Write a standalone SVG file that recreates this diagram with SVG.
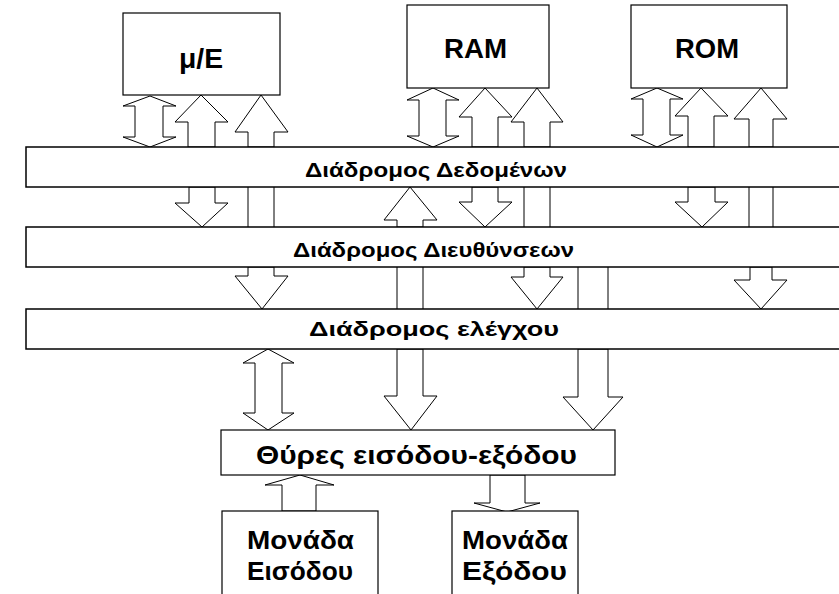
<svg xmlns="http://www.w3.org/2000/svg" width="839" height="594" viewBox="0 0 839 594">
  <style>
    .box { fill: #ffffff; stroke: #000000; stroke-width: 1.2; }
    .bus { fill: #ffffff; stroke: #000000; stroke-width: 1.5; }
    .arr { fill: #ffffff; stroke: #000000; stroke-width: 1; stroke-linejoin: miter; }
    .shaft { fill: none; stroke: #000000; stroke-width: 1; }
    text { font-family: "Liberation Sans", Arial, sans-serif; font-weight: bold; fill: #000000; text-anchor: start; }
    .big { font-size: 26px; }
    .unit { font-size: 27px; }
    .busl { font-size: 20px; }
  </style>
  <rect width="839" height="594" fill="#ffffff"/>

  <!-- connectors -->
  <g id="connectors">
    <!-- units to data bus -->
    <polygon class="arr" points="150,96 176,106 163,106 163,137 176,137 150,147 123,137 135,137 135,106 123,106"/>
    <polygon class="arr" points="201,95 228,122 215,122 215,147 188,147 188,122 175,122"/>
    <polygon class="arr" points="261,95 288,132 274,132 274,147 248,147 248,132 235,132"/>

    <polygon class="arr" points="433,88 459,100 446,100 446,136 459,136 433,147 407,136 419,136 419,100 407,100"/>
    <polygon class="arr" points="485,88 512,117 498,117 498,147 472,147 472,117 459,117"/>
    <polygon class="arr" points="537,88 563,122 550,122 550,147 524,147 524,122 511,122"/>

    <polygon class="arr" points="657,88 683,99 670,99 670,135 683,135 657,147 631,135 643,135 643,99 631,99"/>
    <polygon class="arr" points="701,88 728,116 714,116 714,147 688,147 688,116 675,116"/>
    <polygon class="arr" points="761,88 787,119 773,119 773,147 749,147 749,119 734,119"/>

    <!-- between data bus and address bus -->
    <polygon class="arr" points="189,187 189,203 175,203 202,227 228,203 215,203 215,187"/>
    <path class="shaft" d="M248,187V227M274,187V227"/>
    <polygon class="arr" points="410,187 437,220 423,220 423,227 397,227 397,220 384,220"/>
    <polygon class="arr" points="472,187 472,202 459,202 485,227 512,202 498,202 498,187"/>
    <path class="shaft" d="M524,187V227M550,187V227"/>
    <polygon class="arr" points="688,187 688,202 675,202 702,227 728,202 715,202 715,187"/>
    <path class="shaft" d="M749,187V227M773,187V227"/>

    <!-- between address bus and control bus -->
    <polygon class="arr" points="248,267 248,276 235,276 262,309 288,276 274,276 274,267"/>
    <path class="shaft" d="M397,267V309M423,267V309"/>
    <polygon class="arr" points="524,267 524,277 511,277 537,309 563,277 550,277 550,267"/>
    <path class="shaft" d="M578,267V309M608,267V309"/>
    <polygon class="arr" points="750,267 750,280 734,280 761,309 787,280 772,280 772,267"/>

    <!-- control bus to I/O ports -->
    <polygon class="arr" points="268,349 294,363 282,363 282,413 294,413 268,430 243,413 255,413 255,363 243,363"/>
    <polygon class="arr" points="397,349 397,396 384,396 411,430 437,396 423,396 423,349"/>
    <polygon class="arr" points="578,349 578,397 563,397 593,430 623,397 608,397 608,349"/>

    <!-- I/O ports to units -->
    <polygon class="arr" points="300,475 334,485 316,485 316,511 282,511 282,485 265,485"/>
    <polygon class="arr" points="490,475 490,503 474,503 507,512 540,503 525,503 525,475"/>
  </g>

  <g id="bus-data">
    <rect class="bus" x="26" y="147" width="830" height="40"/>
    <text class="busl" x="305" y="177" textLength="262" lengthAdjust="spacingAndGlyphs">Διάδρομος Δεδομένων</text>
  </g>
  <g id="bus-address">
    <rect class="bus" x="26" y="227" width="830" height="40"/>
    <text class="busl" x="293" y="257" textLength="281" lengthAdjust="spacingAndGlyphs">Διάδρομος Διευθύνσεων</text>
  </g>
  <g id="bus-control">
    <rect class="bus" x="26" y="309" width="830" height="40"/>
    <text class="busl" x="309" y="336" textLength="250" lengthAdjust="spacingAndGlyphs">Διάδρομος ελέγχου</text>
  </g>

  <g id="cpu">
    <rect class="box" x="123" y="13" width="157" height="82"/>
    <text class="unit" x="179" y="68" textLength="44" lengthAdjust="spacingAndGlyphs">μ/E</text>
  </g>
  <g id="ram">
    <rect class="box" x="407" y="5" width="142" height="83"/>
    <text class="unit" x="444" y="58" textLength="63" lengthAdjust="spacingAndGlyphs">RAM</text>
  </g>
  <g id="rom">
    <rect class="box" x="631" y="5" width="156" height="83"/>
    <text class="unit" x="675" y="58" textLength="64" lengthAdjust="spacingAndGlyphs">ROM</text>
  </g>

  <g id="io-ports">
    <rect class="box" x="221" y="430" width="394" height="45"/>
    <text class="big" x="256" y="464" textLength="321" lengthAdjust="spacingAndGlyphs">Θύρες εισόδου-εξόδου</text>
  </g>

  <g id="input-unit">
    <rect class="box" x="222" y="511" width="156" height="100"/>
    <text class="big" x="247" y="549" textLength="107" lengthAdjust="spacingAndGlyphs">Μονάδα</text>
    <text class="big" x="247" y="580" textLength="106" lengthAdjust="spacingAndGlyphs">Εισόδου</text>
  </g>
  <g id="output-unit">
    <rect class="box" x="452" y="511" width="126" height="100"/>
    <text class="big" x="462" y="549" textLength="106" lengthAdjust="spacingAndGlyphs">Μονάδα</text>
    <text class="big" x="462" y="580" textLength="105" lengthAdjust="spacingAndGlyphs">Εξόδου</text>
  </g>
</svg>
